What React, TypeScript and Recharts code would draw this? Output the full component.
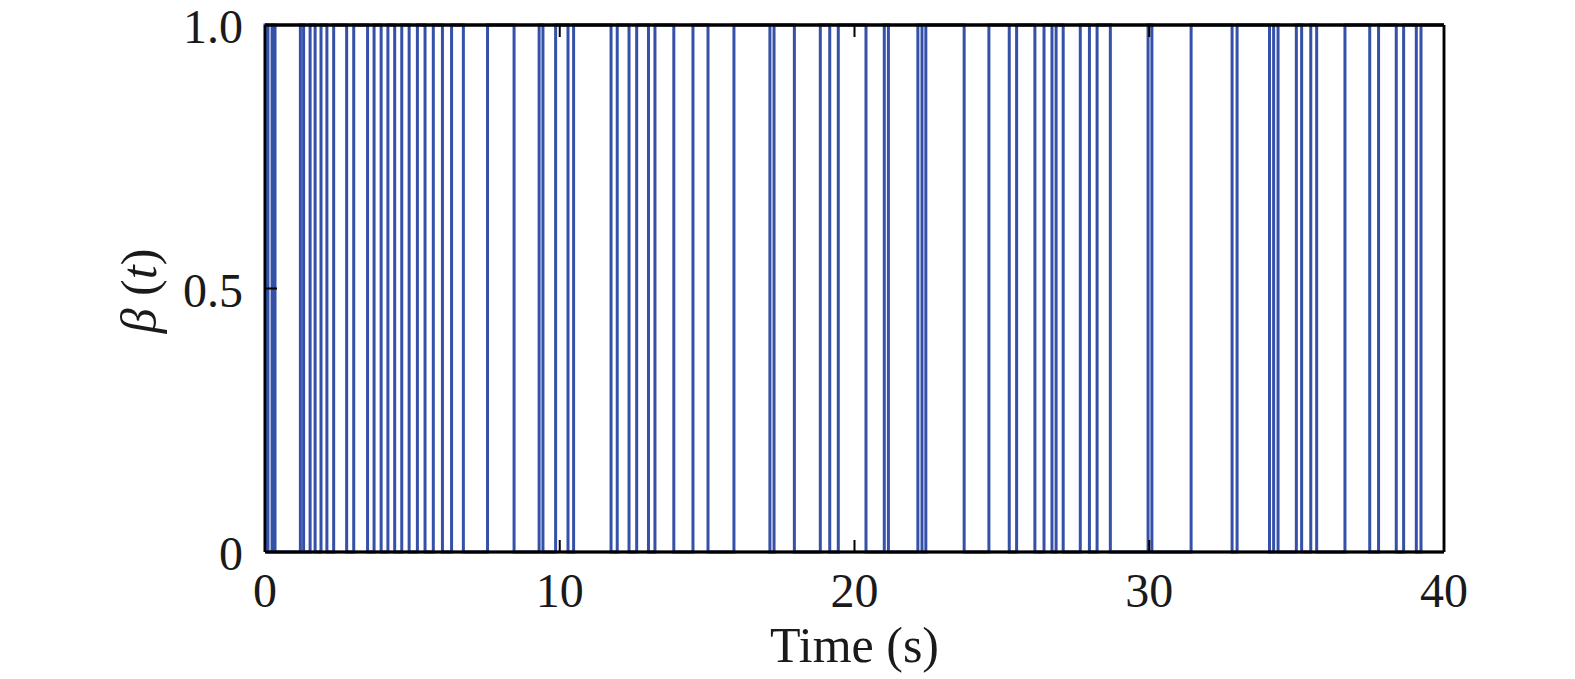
import React from "react";
import {
  LineChart,
  Line,
  XAxis,
  YAxis,
  ReferenceLine,
  Label,
} from "recharts";

// switching instants of beta(t), seconds
const switchTimes = [
  0, 0.1, 0.24, 0.34, 1.2, 1.31, 1.53, 1.7, 1.9, 2.1, 2.33, 2.77, 3.01, 3.48,
  3.7, 3.94, 4.17, 4.4, 4.64, 4.89, 5.17, 5.43, 5.71, 6.02, 6.33, 6.73, 7.55,
  8.45, 9.3, 9.43, 9.86, 10.28, 10.47, 11.74, 11.95, 12.35, 12.61, 13.01,
  13.23, 13.87, 14.52, 15.03, 15.91, 17.13, 17.27, 17.96, 18.84, 19.16, 19.45,
  20.39, 21.01, 21.15, 22.15, 22.29, 22.42, 23.72, 24.56, 25.25, 25.5, 26.12,
  26.43, 26.7, 26.84, 27.08, 27.66, 27.97, 28.23, 28.68, 29.96, 30.09, 31.42,
  32.81, 32.98, 34.08, 34.22, 34.37, 34.99, 35.17, 35.48, 35.68, 36.64, 37.48,
  37.78, 38.38, 38.63, 39.06, 39.22,
];
const startLevel = 0;
const xTicks = [0, 10, 20, 30, 40];
const yTicks = [0, 0.5, 1];

const data: { t: number; v: number }[] = [{ t: 0, v: startLevel }];
let level = startLevel;
switchTimes.forEach((s) => {
  level = level === 1 ? 0 : 1;
  data.push({ t: s, v: level });
});
data.push({ t: 40, v: level });

const FONT = '"Liberation Serif", "Times New Roman", serif';
const BLUE = "#3550a8";
const TL = 12;

const BottomTick = (props: any) => {
  const { x, y, payload } = props;
  const edge = payload.value === 0 || payload.value === 40;
  return (
    <g>
      {!edge && <line x1={x} y1={y} x2={x} y2={y - TL} stroke="#000" strokeWidth={2} />}
      <text x={x} y={y + 55} textAnchor="middle" fontSize={48} fontFamily={FONT} fill="#1a1a1a">
        {payload.value}
      </text>
    </g>
  );
};

const TopTick = (props: any) => {
  const { x, y, payload } = props;
  if (payload.value === 0 || payload.value === 40) return <g />;
  return <line x1={x} y1={y} x2={x} y2={y + TL} stroke="#000" strokeWidth={2} />;
};

const LeftTick = (props: any) => {
  const { x, y, payload } = props;
  const v = payload.value;
  const edge = v === 0 || v === 1;
  return (
    <g>
      {!edge && <line x1={x} y1={y} x2={x + TL} y2={y} stroke="#000" strokeWidth={2} />}
      <text x={x - 22} y={y + 18} textAnchor="end" fontSize={48} fontFamily={FONT} fill="#1a1a1a">
        {v === 0 ? "0" : v.toFixed(1)}
      </text>
    </g>
  );
};

const RightTick = (props: any) => {
  const { x, y, payload } = props;
  if (payload.value === 0 || payload.value === 1) return <g />;
  return <line x1={x} y1={y} x2={x - TL} y2={y} stroke="#000" strokeWidth={2} />;
};

export default function App() {
  return (
    <div style={{ width: 1575, height: 679, margin: "-8px 0 0 -8px" }}>
      <LineChart
        width={1575}
        height={679}
        data={data}
        margin={{ top: 0, right: 0, bottom: 0, left: 0 }}
      >
        <XAxis
          xAxisId="b"
          dataKey="t"
          type="number"
          domain={[0, 40]}
          ticks={xTicks}
          height={127}
          tickSize={0}
          tickMargin={0}
          tickLine={false}
          tick={<BottomTick />}
          axisLine={{ stroke: "#000", strokeWidth: 2.5 }}
          interval={0}
        >
          <Label
            content={(p: any) => {
              const vb = p.viewBox;
              return (
                <text
                  x={vb.x + vb.width / 2}
                  y={vb.y + 110}
                  textAnchor="middle"
                  fontSize={50}
                  fontFamily={FONT}
                  fill="#1a1a1a"
                >
                  Time (s)
                </text>
              );
            }}
          />
        </XAxis>
        <XAxis
          xAxisId="t"
          dataKey="t"
          type="number"
          orientation="top"
          domain={[0, 40]}
          ticks={xTicks}
          height={25}
          tickSize={0}
          tickMargin={0}
          tickLine={false}
          tick={<TopTick />}
          axisLine={{ stroke: "#000", strokeWidth: 3 }}
          interval={0}
        />
        <YAxis
          yAxisId="l"
          type="number"
          domain={[0, 1]}
          ticks={yTicks}
          width={265}
          tickSize={0}
          tickMargin={0}
          tickLine={false}
          tick={<LeftTick />}
          axisLine={{ stroke: "#000", strokeWidth: 2.5 }}
          interval={0}
        >
          <Label
            content={() => (
              <text
                x={139}
                y={291}
                transform="rotate(-90, 139, 291)"
                textAnchor="middle"
                dominantBaseline="central"
                fontSize={50}
                fontFamily={FONT}
                fill="#1a1a1a"
              >
                <tspan fontStyle="italic">β</tspan> (<tspan fontStyle="italic">t</tspan>)
              </text>
            )}
          />
        </YAxis>
        <YAxis
          yAxisId="r"
          orientation="right"
          type="number"
          domain={[0, 1]}
          ticks={yTicks}
          width={131}
          tickSize={0}
          tickMargin={0}
          tickLine={false}
          tick={<RightTick />}
          axisLine={{ stroke: "#000", strokeWidth: 2.5 }}
          interval={0}
        />
        <Line
          xAxisId="b"
          yAxisId="l"
          dataKey="v"
          type="stepAfter"
          stroke={BLUE}
          strokeWidth={3}
          dot={false}
          activeDot={false}
          isAnimationActive={false}
        />
        <ReferenceLine xAxisId="b" yAxisId="l" y={0} stroke="#000" strokeWidth={3} />
        <ReferenceLine xAxisId="b" yAxisId="l" y={1} stroke="#000" strokeWidth={3} />
        <ReferenceLine xAxisId="b" yAxisId="l" x={40} stroke="#000" strokeWidth={2.5} />
      </LineChart>
    </div>
  );
}
